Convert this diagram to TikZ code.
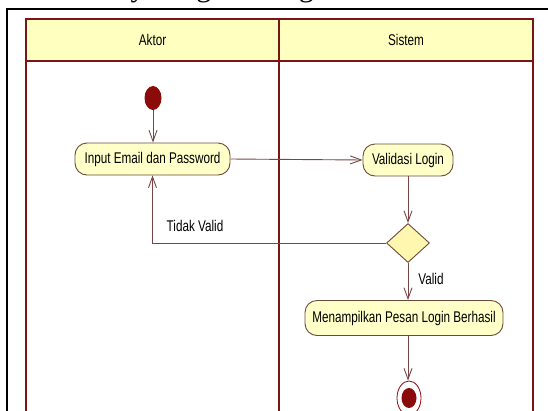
\documentclass[tikz,border=0pt]{standalone}
\usepackage{fontspec}
\usepackage{graphicx}
\setmainfont{Liberation Sans}
\newfontfamily\titlefont{Liberation Serif}
\usetikzlibrary{arrows.meta,shapes.geometric}
\definecolor{lanered}{HTML}{7A1515}
\definecolor{headfill}{HTML}{FFFFC0}
\definecolor{actfill}{HTML}{FFFFC8}
\definecolor{decfill}{HTML}{FFF6B0}
\definecolor{actline}{HTML}{6B4A3A}
\definecolor{flowline}{HTML}{7A4545}
\definecolor{nodered}{HTML}{8B0A0A}
% condensed label text
\newcommand\narrowtext[1]{\scalebox{0.755}[1]{#1}}
\tikzset{
  lbl/.style={font=\fontsize{15.5}{17}\selectfont, inner sep=0pt},
  actbox/.style={draw=actline, fill=actfill, rounded corners=12pt,
    minimum height=32pt, inner sep=0pt, line width=0.9pt,
    font=\fontsize{15.5}{17}\selectfont},
  decision/.style={diamond, draw=actline, fill=decfill, line width=0.9pt,
    minimum width=43pt, minimum height=39pt, inner sep=0pt},
  flow/.style={draw=flowline, line width=0.9pt,
    -{Straight Barb[length=11pt,width=8pt,line width=0.9pt]}},
  lane/.style={draw=lanered},
}
\begin{document}
\begin{tikzpicture}[x=1pt,y=-1pt]
\useasboundingbox (0,0) rectangle (548,410);
\clip (0,0) rectangle (548,410);

% caption line above the frame
\node[anchor=base west, font=\titlefont\fontsize{30}{30}\selectfont, inner sep=0pt]
  (title) at (47,-3.5) {Activity Diagram Login};

% outer frame
\draw[line width=1.3pt] (7,430) -- (7,9) -- (560,9);

% swimlanes
\draw[lane, fill=headfill, line width=2pt] (26,19) rectangle (533,61);
\draw[lane, line width=1.3pt] (26,61) -- (26,430);
\draw[lane, line width=1.3pt] (533,61) -- (533,430);
\draw[lane, line width=2.6pt] (279,19) -- (279,430);
\node[lbl] (aktor) at (152.5,40) {\narrowtext{Aktor}};
\node[lbl] (sistem) at (406,40) {\narrowtext{Sistem}};

% nodes
\node[ellipse, fill=nodered, minimum width=17pt, minimum height=24pt, inner sep=0pt]
  (start) at (153,98) {};
\node[actbox, minimum width=155pt] (input) at (152.5,159) {\narrowtext{Input Email dan Password}};
\node[actbox, minimum width=90pt] (valid) at (408,160) {\narrowtext{Validasi Login}};
\node[decision] (dec) at (408,243) {};
\node[actbox, minimum width=198pt, minimum height=35pt] (msg) at (404,318)
  {\narrowtext{Menampilkan Pesan Login Berhasil}};
\node[ellipse, draw=nodered, line width=0.8pt, fill=white, minimum width=24pt,
  minimum height=34pt, inner sep=0pt] (final) at (409,398) {};
\node[ellipse, fill=nodered, minimum width=15pt, minimum height=20pt, inner sep=0pt]
  (finaldot) at (409,398) {};

% flows
\draw[flow] (start.south) -- (start.south |- input.north);
\draw[flow] (input.east) -- (valid.west);
\draw[flow] (valid.south) -- (dec.north);
\draw[flow] (dec.west) -| (input.south);
\draw[flow] (dec.south) -- (dec.south |- msg.north);
\draw[flow] (dec.south |- msg.south) -- (final.north -| dec.south);

% guards
\node[lbl] (notvalid) at (195,226) {\narrowtext{Tidak Valid}};
\node[lbl] (isvalid) at (431,279) {\narrowtext{Valid}};
\end{tikzpicture}
\end{document}
